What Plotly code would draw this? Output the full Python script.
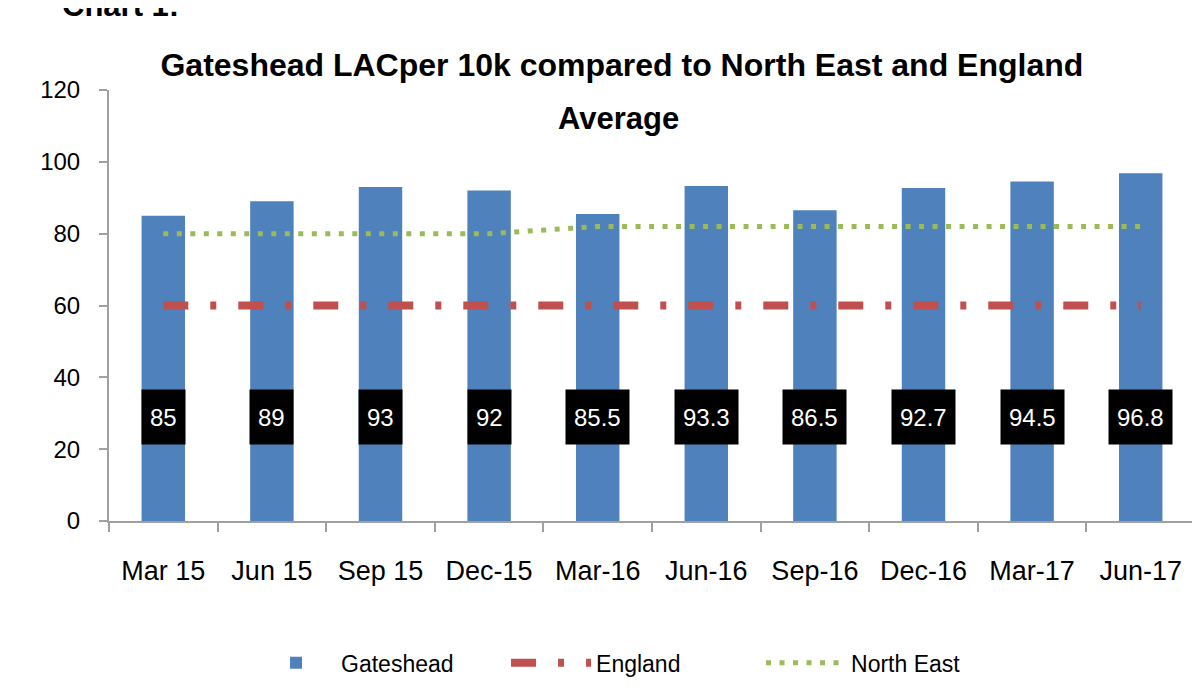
import plotly.graph_objects as go

# data
quarters = ["Mar 15", "Jun 15", "Sep 15", "Dec-15", "Mar-16",
            "Jun-16", "Sep-16", "Dec-16", "Mar-17", "Jun-17"]
gateshead = [85, 89, 93, 92, 85.5, 93.3, 86.5, 92.7, 94.5, 96.8]
england = [60, 60, 60, 60, 60, 60, 60, 60, 60, 60]
north_east = [80, 80, 80, 80, 82, 82, 82, 82, 82, 82]
labels = ["85", "89", "93", "92", "85.5", "93.3", "86.5", "92.7", "94.5", "96.8"]

FONT = "Liberation Sans, Arial, sans-serif"
BLUE = "#4F81BD"
RED = "#C0504D"
GREEN = "#9BBB59"

fig = go.Figure()

fig.add_trace(go.Bar(
    x=quarters, y=gateshead, name="Gateshead",
    marker=dict(color=BLUE, line=dict(width=0)),
    width=0.4,
))
fig.add_trace(go.Scatter(
    x=quarters, y=england, name="England", mode="lines",
    line=dict(color=RED, width=8, dash="25px,22px,6px,22px"),
))
fig.add_trace(go.Scatter(
    x=quarters, y=north_east, name="North East", mode="lines",
    line=dict(color=GREEN, width=5, dash="5px,8.5px"),
))

# black boxed value labels
for q, lab in zip(quarters, labels):
    fig.add_annotation(
        x=q, y=29, text=lab, showarrow=False,
        font=dict(family=FONT, size=24, color="white"),
        bgcolor="black", borderpad=8, height=38,
    )

# second title line sits lower, as in the original
fig.add_annotation(
    xref="paper", yref="paper", x=0.469, y=(521 - 118) / 431,
    xanchor="center", yanchor="middle", showarrow=False,
    text="<b>Average</b>",
    font=dict(family=FONT, size=31, color="black"),
)

# page heading, cut off by the top edge in the original too
fig.add_annotation(
    xref="paper", yref="paper", x=-0.045, y=1.195,
    xanchor="left", yanchor="middle", showarrow=False,
    text="<b>Chart 1:</b>",
    font=dict(family=FONT, size=31, color="black"),
)

# page body has an 8px margin, so the figure is 8px smaller each way
fig.update_layout(
    width=1192, height=692,
    paper_bgcolor="white", plot_bgcolor="white",
    margin=dict(l=101, r=5, t=82, b=179, autoexpand=False),
    title=dict(
        text="<b>Gateshead LACper 10k compared to North East and England</b>",
        x=0.515, xanchor="center", y=1 - 57 / 692, yanchor="middle",
        font=dict(family=FONT, size=32, color="black"),
    ),
    font=dict(family=FONT, size=24, color="black"),
    showlegend=True,
    legend=dict(
        orientation="h", x=0.483, xanchor="center", y=-0.329, yanchor="middle",
        font=dict(family=FONT, size=23), itemwidth=80, traceorder="normal",
        entrywidth=160, entrywidthmode="pixels",
    ),
    bargap=0.6,
)

fig.update_xaxes(
    showgrid=False, showline=True, linecolor="#A0A0A0", linewidth=2,
    ticks="outside", tickson="boundaries", ticklen=9, tickcolor="#A0A0A0",
    tickwidth=2, tickfont=dict(family=FONT, size=27), ticklabelstandoff=25,
    automargin=False,
)
fig.update_yaxes(
    range=[0, 120], dtick=20, showgrid=False, zeroline=False,
    showline=True, linecolor="#A0A0A0", linewidth=2,
    ticks="outside", ticklen=8, tickcolor="#A0A0A0", tickwidth=2,
    tickfont=dict(family=FONT, size=24), ticklabelstandoff=14,
    automargin=False,
)

fig.write_html("out.html")
